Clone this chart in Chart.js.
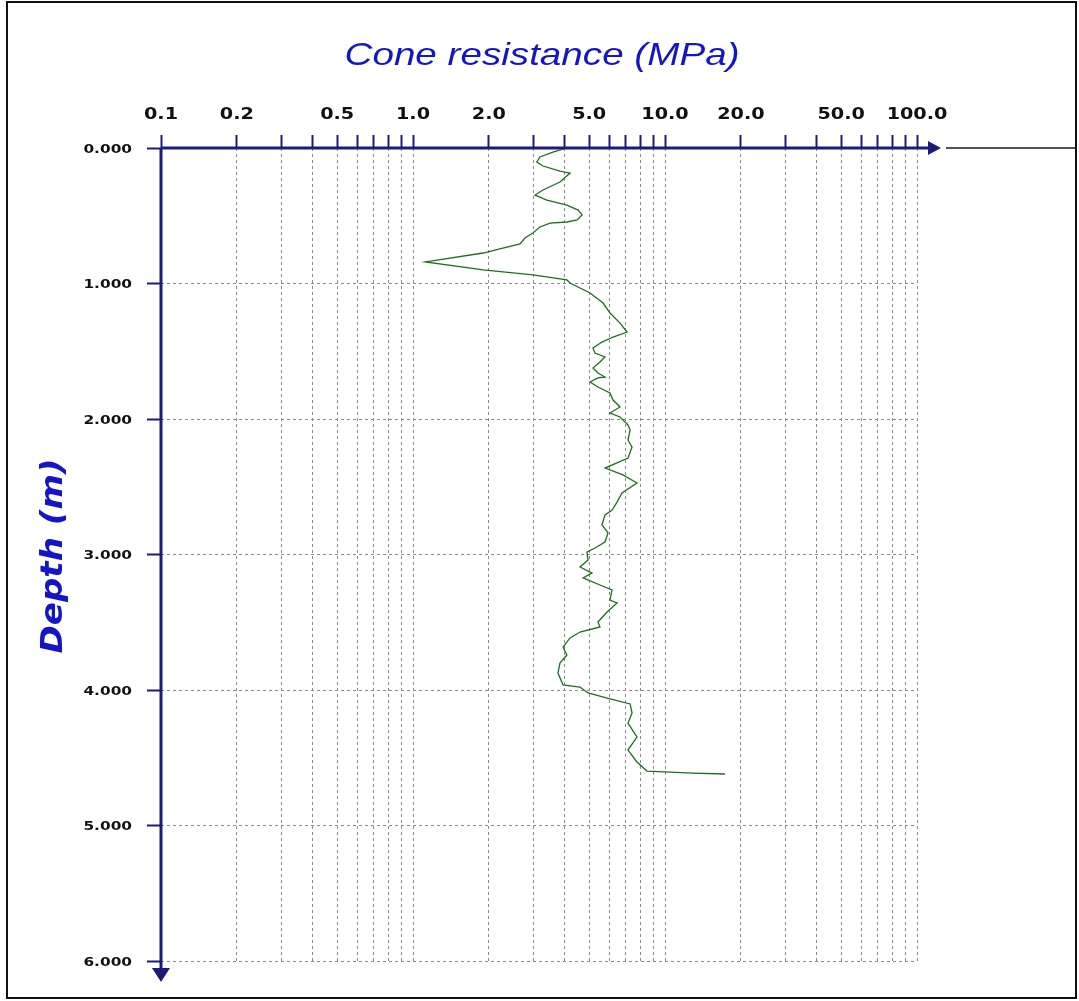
<!DOCTYPE html>
<html>
<head>
<meta charset="utf-8">
<title>Cone penetration test</title>
<script src="https://cdn.jsdelivr.net/npm/chart.js@4.4.1/dist/chart.umd.min.js"></script>
<style>
  html, body { margin: 0; padding: 0; background: #ffffff; }
  canvas { display: block; }
</style>
</head>
<body>
<canvas id="cpt" width="1079" height="1001"></canvas>
<script>
// Depth below ground level (m)
const depthM = [
  0.000, 0.030, 0.066, 0.103, 0.133, 0.170, 0.185, 0.251, 0.310, 0.347,
  0.384, 0.421, 0.458, 0.494, 0.531, 0.546, 0.554, 0.583, 0.627, 0.664,
  0.708, 0.745, 0.775, 0.841, 0.900, 0.937, 0.974, 0.996, 1.070, 1.144,
  1.218, 1.292, 1.358, 1.395, 1.432, 1.476, 1.513, 1.542, 1.579, 1.624,
  1.661, 1.690, 1.697, 1.727, 1.764, 1.808, 1.860, 1.911, 1.956, 1.985,
  2.044, 2.081, 2.155, 2.207, 2.288, 2.362, 2.413, 2.472, 2.546, 2.613,
  2.672, 2.708, 2.782, 2.841, 2.908, 2.952, 2.982, 3.041, 3.092, 3.137,
  3.173, 3.225, 3.262, 3.336, 3.358, 3.424, 3.498, 3.535, 3.572, 3.616,
  3.683, 3.742, 3.801, 3.875, 3.963, 3.978, 4.022, 4.066, 4.103, 4.170,
  4.244, 4.347, 4.443, 4.531, 4.598, 4.613, 4.620
];

// Measured cone resistance qc (MPa)
const coneMPa = [
  4.08, 3.59, 3.19, 3.10, 3.28, 3.83, 4.20, 3.83, 3.28, 3.05,
  3.40, 4.08, 4.52, 4.69, 4.48, 4.08, 3.50, 3.19, 2.99, 2.78,
  2.66, 2.21, 1.90, 1.12, 1.90, 2.99, 4.08, 4.20, 5.04, 5.68,
  6.05, 6.63, 7.07, 6.22, 5.62, 5.18, 5.27, 5.78, 5.52, 5.18,
  5.42, 5.78, 5.42, 5.04, 5.42, 6.05, 6.22, 6.63, 6.05, 6.63,
  7.13, 7.27, 7.13, 7.40, 7.13, 5.78, 6.81, 7.74, 6.75, 6.45,
  6.17, 5.78, 5.62, 5.94, 5.78, 5.27, 4.90, 4.95, 4.60, 5.13,
  4.73, 5.52, 6.16, 6.05, 6.45, 5.89, 5.42, 5.52, 4.60, 4.20,
  3.94, 4.08, 3.83, 3.76, 3.94, 4.60, 4.95, 6.05, 7.27, 7.40,
  7.13, 7.74, 7.13, 7.74, 8.48, 12.9, 17.3
];

// Logarithmic resistance axis: every tick, and the ones that carry a label
const xTickValues = [
  0.1, 0.2, 0.3, 0.4, 0.5, 0.6, 0.7, 0.8, 0.9,
  1, 2, 3, 4, 5, 6, 7, 8, 9,
  10, 20, 30, 40, 50, 60, 70, 80, 90,
  100
];
const xLabelValues = [0.1, 0.2, 0.5, 1, 2, 5, 10, 20, 50, 100];

// Depth axis ticks (m)
const yTickValues = [0, 1, 2, 3, 4, 5, 6];

const xTitle = 'Cone resistance (MPa)';
const yTitle = 'Depth (m)';

const AXIS_COLOR = '#1c1c78';
const GRID_COLOR = '#8a8a8a';
const TEXT_BLUE = '#1414c8';
const CURVE_COLOR = '#1f6e1f';

const points = depthM.map((d, i) => ({ x: coneMPa[i], y: d }));

// Draws text with a horizontal stretch factor around the anchor point
function stretchedText(ctx, text, x, y, sx, align) {
  ctx.save();
  ctx.translate(x, y);
  ctx.scale(sx, 1);
  ctx.textAlign = align;
  ctx.fillText(text, 0, 0);
  ctx.restore();
}

const decor = {
  id: 'decor',
  beforeDraw(chart) {
    const ctx = chart.ctx;
    ctx.save();
    ctx.fillStyle = '#ffffff';
    ctx.fillRect(0, 0, chart.width, chart.height);
    ctx.restore();
  },
  afterDraw(chart) {
    const { ctx, chartArea: a, scales } = chart;
    const xs = scales.x, ys = scales.y;
    ctx.save();

    // outer frame
    ctx.strokeStyle = '#111111';
    ctx.lineWidth = 2;
    ctx.strokeRect(7, 2, 1069, 996);

    // axis lines with arrow heads
    ctx.strokeStyle = AXIS_COLOR;
    ctx.fillStyle = AXIS_COLOR;
    ctx.lineWidth = 3;
    ctx.beginPath();
    ctx.moveTo(a.left, a.top);
    ctx.lineTo(a.right + 12, a.top);
    ctx.stroke();
    ctx.beginPath();
    ctx.moveTo(a.right + 11, a.top - 7);
    ctx.lineTo(a.right + 24, a.top);
    ctx.lineTo(a.right + 11, a.top + 7);
    ctx.closePath();
    ctx.fill();

    ctx.beginPath();
    ctx.moveTo(a.left, a.top);
    ctx.lineTo(a.left, a.bottom + 8);
    ctx.stroke();
    ctx.beginPath();
    ctx.moveTo(a.left - 9, a.bottom + 7);
    ctx.lineTo(a.left, a.bottom + 21);
    ctx.lineTo(a.left + 9, a.bottom + 7);
    ctx.closePath();
    ctx.fill();

    // thin rule to the right of the arrow
    ctx.strokeStyle = '#1a1a1a';
    ctx.lineWidth = 1.5;
    ctx.beginPath();
    ctx.moveTo(a.right + 29, a.top);
    ctx.lineTo(1075, a.top);
    ctx.stroke();

    // resistance tick labels
    ctx.fillStyle = '#111111';
    ctx.font = 'bold 16px "DejaVu Sans"';
    ctx.textBaseline = 'alphabetic';
    xLabelValues.forEach(v => {
      stretchedText(ctx, v.toFixed(1), xs.getPixelForValue(v), a.top - 29, 1.2, 'center');
    });

    // depth tick labels
    ctx.font = 'bold 12px "DejaVu Sans"';
    yTickValues.forEach(v => {
      stretchedText(ctx, v.toFixed(3), 132, ys.getPixelForValue(v) + 4.5, 1.28, 'right');
    });

    // axis titles
    ctx.fillStyle = TEXT_BLUE;
    ctx.font = 'italic 32px "Liberation Sans"';
    const tw = ctx.measureText(xTitle).width;
    stretchedText(ctx, xTitle, 542, 65, 395 / tw, 'center');

    ctx.font = 'bold italic 30px "DejaVu Sans"';
    const dw = ctx.measureText(yTitle).width;
    ctx.save();
    ctx.translate(62, 556);
    ctx.rotate(-Math.PI / 2);
    ctx.scale(195 / dw, 1);
    ctx.textAlign = 'center';
    ctx.fillText(yTitle, 0, 0);
    ctx.restore();

    ctx.restore();
  }
};

new Chart(document.getElementById('cpt'), {
  type: 'scatter',
  data: {
    datasets: [{
      label: 'qc',
      data: points,
      showLine: true,
      borderColor: CURVE_COLOR,
      borderWidth: 1.3,
      pointRadius: 0,
      tension: 0,
      clip: false
    }]
  },
  options: {
    responsive: false,
    animation: false,
    devicePixelRatio: 1,
    layout: { padding: { left: 0, top: 0, right: 162, bottom: 40 } },
    plugins: { legend: { display: false }, tooltip: { enabled: false } },
    scales: {
      x: {
        type: 'logarithmic',
        position: 'top',
        min: 0.1,
        max: 100,
        afterBuildTicks(scale) { scale.ticks = xTickValues.map(v => ({ value: v })); },
        afterFit(scale) { scale.height = 148; },
        ticks: { display: false, autoSkip: false },
        border: { display: false, dash: [3, 3] },
        grid: {
          color: GRID_COLOR,
          lineWidth: 1,
          drawTicks: true,
          tickLength: 13,
          tickColor: AXIS_COLOR,
          tickWidth: 2,
          tickBorderDash: []
        }
      },
      y: {
        type: 'linear',
        reverse: true,
        min: 0,
        max: 6,
        afterBuildTicks(scale) { scale.ticks = yTickValues.map(v => ({ value: v })); },
        afterFit(scale) { scale.width = 161; },
        ticks: { display: false, autoSkip: false },
        border: { display: false, dash: [3, 3] },
        grid: {
          color: GRID_COLOR,
          lineWidth: 1,
          drawTicks: true,
          tickLength: 14,
          tickColor: AXIS_COLOR,
          tickWidth: 2,
          tickBorderDash: []
        }
      }
    }
  },
  plugins: [decor]
});
</script>
</body>
</html>
